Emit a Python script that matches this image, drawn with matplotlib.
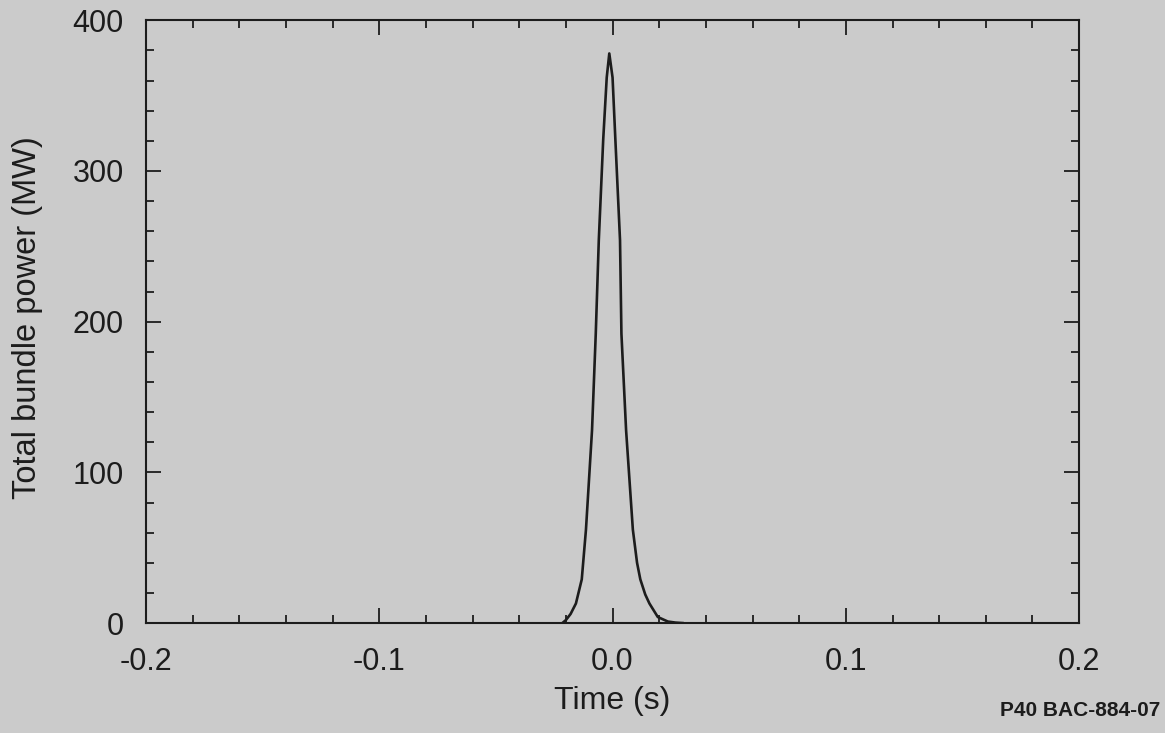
import matplotlib
matplotlib.use("Agg")
import matplotlib.pyplot as plt
from matplotlib.ticker import MultipleLocator

# power pulse
time_s = [-0.0215, -0.0200, -0.0180, -0.0157, -0.0132, -0.0114, -0.0088, -0.0072,
          -0.0059, -0.0040, -0.0025, -0.0014, 0.0000, 0.0012, 0.0032, 0.0038,
          0.0058, 0.0087, 0.0105, 0.0119, 0.0140, 0.0158, 0.0194, 0.0237,
          0.0270, 0.0300]
power_mw = [0, 2, 6, 13, 29, 62, 128, 192,
            254, 321, 362, 378, 362, 321, 254, 192,
            128, 62, 40, 29, 19, 13, 4, 1,
            0.3, 0]

x_ticks = [-0.2, -0.1, 0.0, 0.1, 0.2]
y_ticks = [0, 100, 200, 300, 400]

bg = "#cbcbcb"
ink = "#1c1c1c"
plt.rcParams["font.family"] = ["Liberation Sans", "DejaVu Sans"]

fig = plt.figure(figsize=(11.65, 7.33), dpi=100, facecolor=bg)
ax = fig.add_axes([0.1253, 0.150, 0.8010, 0.8223])
ax.set_facecolor(bg)

ax.plot(time_s, power_mw, color=ink, lw=1.9)

ax.set_xlim(-0.2, 0.2)
ax.set_ylim(0, 400)
ax.set_xticks(x_ticks)
ax.set_xticklabels([f"{v:.1f}" for v in x_ticks])
ax.set_yticks(y_ticks)
ax.xaxis.set_minor_locator(MultipleLocator(0.02))
ax.yaxis.set_minor_locator(MultipleLocator(20))
ax.tick_params(which="both", direction="in", top=True, right=True,
               color=ink, width=1.3, labelcolor=ink, labelsize=22)
ax.tick_params(which="major", length=11)
ax.tick_params(which="minor", length=6)
ax.tick_params(axis="x", which="major", pad=17)
ax.tick_params(axis="y", which="major", pad=16)
for s in ax.spines.values():
    s.set_color(ink)
    s.set_linewidth(1.5)

ax.set_xlabel("Time (s)", fontsize=23, color=ink)
ax.xaxis.set_label_coords(0.5, -0.104)
ax.set_ylabel("Total bundle power (MW)", fontsize=23.5, color=ink)
ax.yaxis.set_label_coords(-0.110, 0.507)

fig.text(0.9957, 0.031, "P40 BAC-884-07", ha="right", va="center",
         fontsize=15, fontweight="bold", color=ink)

fig.savefig("out.png", dpi=100, facecolor=bg)
